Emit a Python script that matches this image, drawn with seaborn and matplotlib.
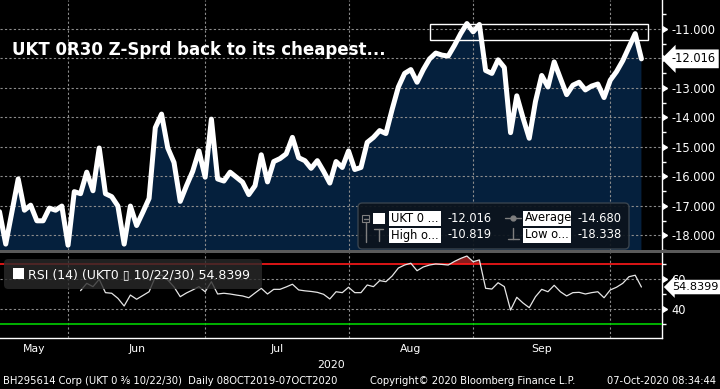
import numpy as np
import pandas as pd
import matplotlib
matplotlib.use("Agg")
import matplotlib.pyplot as plt
from matplotlib.patches import Rectangle, FancyBboxPatch
from matplotlib.lines import Line2D
from matplotlib.ticker import FormatStrFormatter
import seaborn as sns

# trading days on screen (UK calendar: 25 May and 31 Aug are bank holidays)
dates = pd.bdate_range("2020-05-13", "2020-10-07", freq="C",
                       holidays=["2020-05-25", "2020-08-31"])

# UKT 0 3/8 10/22/30 Z-spread, one value per trading day
spread = [-17.20, -18.30, -17.20, -16.09, -17.15, -16.98, -17.51, -17.51, -17.08, -17.15,
          -17.01, -18.338, -16.52, -16.59, -15.86, -16.49, -15.04, -16.59, -16.69, -17.01,
          -18.30, -17.01, -17.67, -17.22, -16.75, -14.35, -13.89, -15.04, -15.53, -16.85,
          -16.32, -15.83, -15.14, -16.03, -14.06, -16.09, -16.16, -15.86, -16.03, -16.20,
          -16.62, -16.32, -15.27, -16.19, -15.50, -15.40, -15.24, -14.68, -15.37, -15.47,
          -15.73, -15.47, -15.83, -16.23, -15.50, -15.70, -15.14, -15.77, -15.70, -14.85,
          -14.68, -14.45, -14.55, -13.73, -12.97, -12.51, -12.38, -12.81, -12.38, -12.02,
          -11.82, -11.89, -11.92, -11.56, -11.16, -10.819, -11.10, -10.85, -12.41, -12.51,
          -12.05, -12.31, -14.52, -13.27, -14.02, -14.71, -13.46, -12.58, -12.97, -12.12,
          -12.68, -13.23, -12.91, -12.81, -13.07, -12.94, -12.87, -13.33, -12.74, -12.45,
          -12.08, -11.62, -11.16, -12.016]

# RSI(14), drawn from the 14th day on screen
rsi_start = 13
rsi = [52.4, 57.3, 55.1, 60.0, 51.1, 50.7, 47.3, 42.2, 49.5, 46.7,
       49.2, 51.7, 61.5, 62.9, 59.5, 54.9, 48.4, 50.9, 52.9, 55.1,
       51.7, 58.4, 50.2, 50.7, 50.2, 49.5, 48.9, 47.7, 50.9, 54.0,
       50.2, 53.3, 53.3, 54.9, 56.7, 52.9, 52.3, 51.9, 51.3, 50.0,
       46.9, 51.7, 51.1, 54.7, 51.1, 51.1, 56.2, 55.1, 59.1, 58.4,
       62.2, 67.5, 69.5, 70.7, 65.7, 68.2, 69.5, 70.2, 69.9, 69.5,
       71.9, 73.9, 75.5, 71.7, 72.9, 54.0, 53.5, 57.7, 55.1, 39.5,
       48.0, 44.2, 41.1, 48.4, 53.3, 51.7, 56.0, 51.7, 48.9, 51.1,
       51.3, 50.2, 51.1, 51.7, 47.7, 52.9, 54.7, 57.3, 61.7, 62.7, 54.8399]

# full-history stat (08OCT2019-07OCT2020) from the legend
average_full = -14.680

title = "UKT 0R30 Z-Sprd back to its cheapest..."
footer_left = "BH295614 Corp (UKT 0 \u215c 10/22/30)  Daily 08OCT2019-07OCT2020"
footer_mid = "Copyright\u00a9 2020 Bloomberg Finance L.P."
footer_right = "07-Oct-2020 08:34:44"

NAVY = "#05203d"
GRID = "#8c8c8c"
ICON = "#7f7f7f"

sns.set_theme(style="dark")
plt.rcParams.update({
    "font.family": ["DejaVu Sans"],
    "axes.unicode_minus": False,
    "figure.facecolor": "black",
    "axes.facecolor": "black",
    "savefig.facecolor": "black",
})

W, H = 720, 389


def fbox(l, t, r, b):
    return [l / W, 1 - b / H, (r - l) / W, (b - t) / H]


def fx(x):
    return x / W


def fy(y):
    return 1 - y / H


fig = plt.figure(figsize=(W / 100, H / 100), dpi=100)
ax = fig.add_axes(fbox(0, 0, 662, 250))
rx = fig.add_axes(fbox(0, 253, 662, 338), sharex=ax)

idx = np.arange(len(dates))
ridx = idx[rsi_start:]
month_end = [i for i in range(len(dates) - 1) if dates[i].month != dates[i + 1].month]
x_left, x_right = 0.08, 106.3
edges = [x_left] + month_end
mids = [(edges[k] + edges[k + 1]) / 2 for k in range(len(month_end))]
names = [dates[i].strftime("%b") for i in month_end]

# ---- main panel
ax.fill_between(idx, spread, -30, color=NAVY, lw=0, zorder=1)
sns.lineplot(x=idx, y=spread, ax=ax, color="white", lw=3.6, zorder=3)
ax.set_xlim(x_left, x_right)
ax.set_ylim(-18.23, -10.02)
ax.yaxis.tick_right()
yt = np.arange(-18, -10.5, 1)
ax.set_yticks(yt)
ax.set_yticks(np.arange(-18.5, -10, 1), minor=True)
ax.yaxis.set_major_formatter(FormatStrFormatter("%.3f"))
ax.tick_params(axis="y", which="major", length=0, pad=7, labelsize=8.3, labelcolor="white")
ax.tick_params(axis="y", which="minor", length=3, width=1, color="white")
ax.tick_params(axis="x", which="both", length=0, labelbottom=False)
ax.plot(np.ones(len(yt)), yt, transform=ax.get_yaxis_transform(), marker=9, ms=5,
        color="white", ls="none", clip_on=False)
ax.set_xticks(month_end)
ax.set_axisbelow(False)
ax.grid(True, which="major", color=GRID, ls=(0, (2, 2)), lw=0.8)
for s in ["top", "left", "bottom"]:
    ax.spines[s].set_visible(False)
ax.spines["right"].set_color("white")
ax.spines["right"].set_linewidth(1)
ax.set_xlabel("")
ax.set_ylabel("")

ax.text(12 / 662, 1 - 50 / 250, title, transform=ax.transAxes, color="white",
        fontsize=12, fontweight="bold", va="center", ha="left", zorder=5)
ax.add_patch(Rectangle((69.0, -11.384), 35.0, 0.548, fill=False, ec="white", lw=1,
                       clip_on=False, zorder=4))
ax.annotate(f"{spread[-1]:.3f}", xy=(1, spread[-1]), xycoords=ax.get_yaxis_transform(),
            xytext=(7, 0), textcoords="offset points", ha="left", va="center",
            fontsize=8.3, color="black", annotation_clip=False,
            bbox=dict(boxstyle="larrow,pad=0.25", fc="white", ec="none"))

# ---- RSI panel
rx.fill_between(ridx, rsi, 70, where=np.array(rsi) > 70, interpolate=True,
                color="#8a1c1c", lw=0, zorder=2)
sns.lineplot(x=ridx, y=rsi, ax=rx, color="#e6e6e6", lw=0.9, zorder=3)
rx.axhline(70, color="#ff1a1a", lw=1.2, zorder=2.6)
rx.axhline(30, color="#00d000", lw=1.2, zorder=2.6)
rx.set_ylim(20.9, 77.5)
rx.yaxis.tick_right()
rx.set_yticks([40, 60])
rx.set_yticks([30, 50, 70], minor=True)
rx.tick_params(axis="y", which="major", length=0, pad=7, labelsize=8.3, labelcolor="white")
rx.tick_params(axis="y", which="minor", length=3, width=1, color="white")
rx.plot(np.ones(2), [40, 60], transform=rx.get_yaxis_transform(), marker=9, ms=5,
        color="white", ls="none", clip_on=False)
rx.set_xticks(month_end)
rx.set_xticks(mids, minor=True)
rx.set_xticklabels([""] * len(month_end))
rx.set_xticklabels(names, minor=True)
rx.tick_params(axis="x", which="major", length=4, width=1, color="white", direction="out")
rx.tick_params(axis="x", which="minor", length=0, pad=4, labelsize=7.8, labelcolor="white")
rx.set_axisbelow(False)
rx.grid(True, which="major", color=GRID, ls=(0, (2, 2)), lw=0.8)
for s in ["top", "left"]:
    rx.spines[s].set_visible(False)
for s in ["right", "bottom"]:
    rx.spines[s].set_color("white")
    rx.spines[s].set_linewidth(1)
rx.set_xlabel("2020", color="white", fontsize=7.8, labelpad=4.5)
rx.set_ylabel("")
rx.annotate(f"{rsi[-1]:.4f}", xy=(1, rsi[-1]), xycoords=rx.get_yaxis_transform(),
            xytext=(7, 0), textcoords="offset points", ha="left", va="center",
            fontsize=8.1, color="black", annotation_clip=False,
            bbox=dict(boxstyle="larrow,pad=0.2", fc="white", ec="none"))

# ---- separator bar
fig.add_artist(Rectangle((0, fy(253)), 1, 3 / H, transform=fig.transFigure,
                         color="#5a5a5a", lw=0))

# ---- main legend box
fig.add_artist(FancyBboxPatch((fx(358), fy(249)), (629 - 358) / W, (249 - 203) / H,
                              boxstyle="round,pad=0,rounding_size=0.006", mutation_aspect=W / H,
                              transform=fig.transFigure, fc="#0c141d", ec="#3c4650", lw=1,
                              alpha=0.93, zorder=5))
fig.add_artist(Rectangle((fx(373), fy(224)), 12 / W, 11 / H, transform=fig.transFigure,
                         color="white", lw=0, zorder=6))
fig.add_artist(Rectangle((fx(362), fy(222)), 7 / W, 7 / H, transform=fig.transFigure,
                         fill=False, ec=ICON, lw=0.8, zorder=6))
for xs, ys in [([363.5, 367.5], [218.5, 218.5]), ([365.5, 365.5], [222, 242]),
               ([374, 383], [229, 229]), ([378.5, 378.5], [229, 241]),
               ([505, 521], [218, 218]), ([513, 513], [228, 239]), ([508, 519], [239, 239])]:
    fig.add_artist(Line2D([fx(v) for v in xs], [fy(v) for v in ys], color=ICON, lw=1, zorder=6))
fig.add_artist(Line2D([fx(513)], [fy(218)], marker="o", ms=3.5, color=ICON, zorder=6))
rows = [(218, "UKT 0 ...", f"{spread[-1]:.3f}", "Average", f"{average_full:.3f}"),
        (235, "High o...", f"{max(spread):.3f}", "Low o...", f"{min(spread):.3f}")]
for yy, n1, v1, n2, v2 in rows:
    for x0, name in [(389, n1), (523, n2)]:
        fig.add_artist(Rectangle((fx(x0), fy(yy + 7.5)), (48 if x0 == 523 else 52) / W, 15 / H,
                                 transform=fig.transFigure, color="white", lw=0, zorder=6))
        fig.text(fx(x0 + 2), fy(yy), name, color="black", fontsize=8.3, va="center",
                 ha="left", zorder=7)
    fig.text(fx(448), fy(yy), v1, color="white", fontsize=8.3, va="center", zorder=7)
    fig.text(fx(577), fy(yy), v2, color="white", fontsize=8.3, va="center", zorder=7)

# ---- RSI legend box
fig.add_artist(FancyBboxPatch((fx(4), fy(289)), (262 - 4) / W, (289 - 259) / H,
                              boxstyle="round,pad=0,rounding_size=0.006", mutation_aspect=W / H,
                              transform=fig.transFigure, fc="#2a2a2a", ec="none",
                              alpha=0.8, zorder=5))
fig.add_artist(Rectangle((fx(12.7), fy(279)), 11.3 / W, 11 / H, transform=fig.transFigure,
                         color="white", lw=0, zorder=6))
fig.text(fx(28), fy(275), f"RSI (14) (UKT0 \u25af 10/22/30) {rsi[-1]:.4f}", color="white",
         fontsize=9, va="center", ha="left", zorder=7)

# ---- footer
fig.text(fx(3), fy(381), footer_left, color="white", fontsize=7.2, va="center", ha="left")
fig.text(fx(370), fy(381), footer_mid, color="white", fontsize=7.2, va="center", ha="left")
fig.text(fx(716), fy(381), footer_right, color="white", fontsize=7.1, va="center", ha="right")

fig.savefig("out.png", dpi=100, facecolor="black")
